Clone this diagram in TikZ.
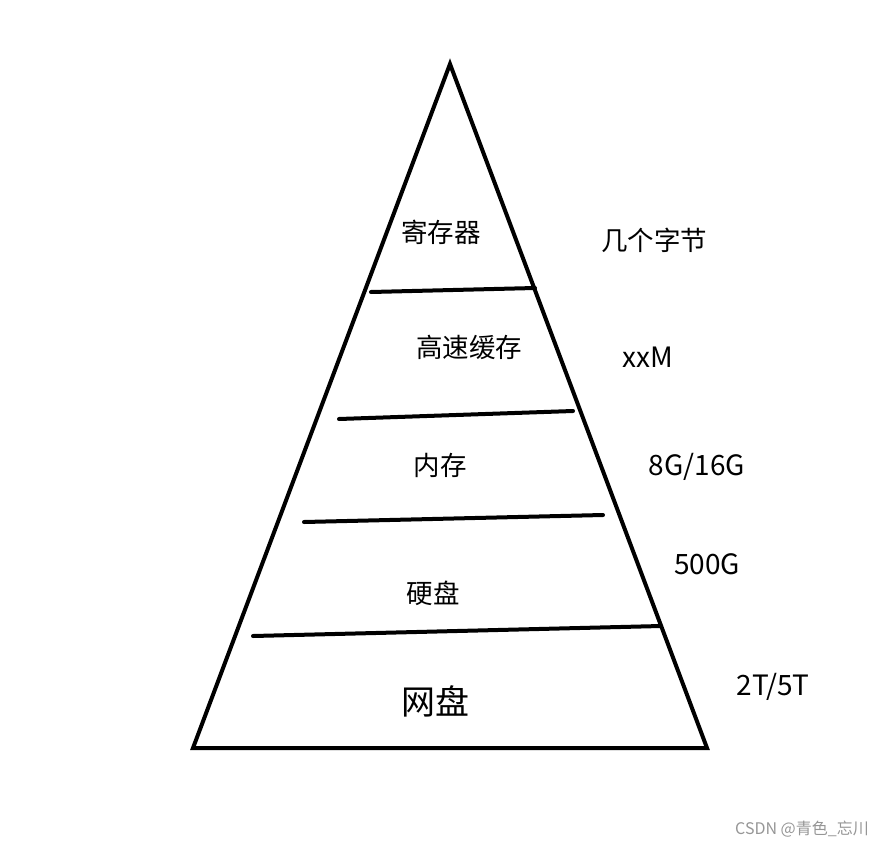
\documentclass[tikz,border=0pt]{standalone}
\usepackage{fontspec}
\setmainfont{Noto Sans CJK SC}
\usepackage{tikz}
\usetikzlibrary{calc}
\definecolor{inkblack}{RGB}{0, 0, 0}
\definecolor{markgray}{RGB}{150, 150, 150}

\begin{document}
\begin{tikzpicture}[
				x=1pt, y=-1pt,
				edge/.style={draw=inkblack, line width=4pt, line join=miter},
				layer/.style={draw=inkblack, line width=4pt, line cap=round},
				level/.style={inner sep=0pt, anchor=center, font=\fontsize{26.5}{30}\selectfont},
				size/.style={inner sep=0pt, anchor=center, font=\fontsize{28}{32}\selectfont},
				wmark/.style={inner sep=0pt, anchor=center, text=markgray, font=\fontsize{16}{19}\selectfont}
				]
				\useasboundingbox (0,0) rectangle (894,846);
				% pyramid outline
				\coordinate (apex) at (450,64);
				\coordinate (bl) at (193,748);
				\coordinate (br) at (707,748);
				\draw[edge] (apex) -- (br) -- (bl) -- cycle;
				
				% layer boundaries
				\coordinate (l1a) at (371,292); \coordinate (l1b) at (535,288);
				\coordinate (l2a) at (339,419); \coordinate (l2b) at (573,411);
				\coordinate (l3a) at (304,522); \coordinate (l3b) at (603,515);
				\coordinate (l4a) at (253,636); \coordinate (l4b) at (661,626);
				\draw[layer] (l1a) -- (l1b);
				\draw[layer] (l2a) -- (l2b);
				\draw[layer] (l3a) -- (l3b);
				\draw[layer] (l4a) -- (l4b);
				
				% level names
				\node[level] (reg) at (441,232) {寄存器};
				\node[level] (cache) at (469,347) {高速缓存};
				\node[level] (mem) at (440,465) {内存};
				\node[level] (disk) at (433,593) {硬盘};
				\node[level, font=\fontsize{34}{38}\selectfont] (net) at (435,701) {网盘};
				
				% sizes
				\node[level] (regsize) at (654,240) {几个字节};
				\node[size] (cachesize) at (648,357) {xxM};
				\node[size] (memsize) at (697,467) {8G/16G};
				\node[size] (disksize) at (707,564) {500G};
				\node[size] (netsize) at (773,687) {2T/5T};
				
				\node[wmark] (wm) at (802,829) {CSDN @青色\_忘川};
			\end{tikzpicture}
\end{document}
